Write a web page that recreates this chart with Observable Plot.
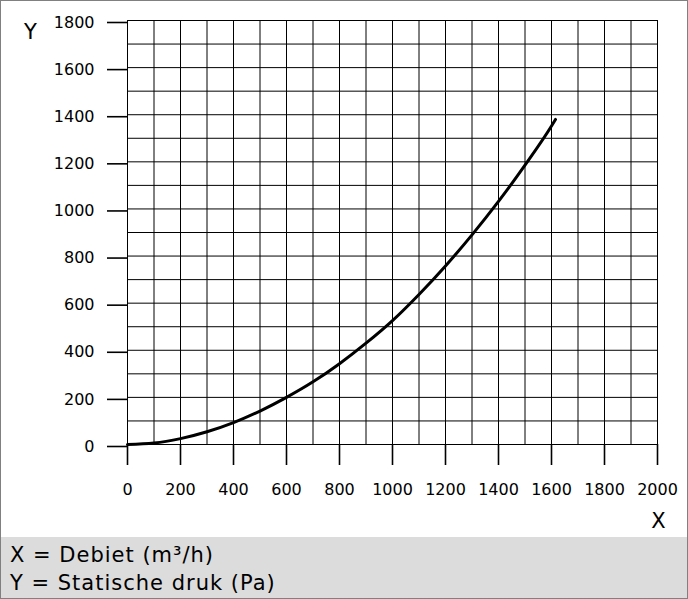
<!DOCTYPE html>
<html>
<head>
<meta charset="utf-8">
<script src="https://cdn.jsdelivr.net/npm/d3@7"></script>
<script src="https://cdn.jsdelivr.net/npm/@observablehq/plot@0.6"></script>
<style>
  html, body { margin: 0; padding: 0; background: #fff; }
  #wrap { width: 688px; height: 599px; box-sizing: border-box; border: 1px solid #808080; position: relative; overflow: hidden; background: #fff; }
  #chart svg { display: block; }
  #legend { position: absolute; left: 0; top: 536px; width: 686px; height: 62px; background: #dcdcdc; font-family: "DejaVu Sans", Verdana, sans-serif; font-size: 21px; letter-spacing: 1px; color: #000; }
  #legend div { position: absolute; left: 9px; white-space: nowrap; }
</style>
</head>
<body>
<div id="wrap">
  <div id="chart"></div>
  <div id="legend">
    <div style="top:6px">X = Debiet (m³/h)</div>
    <div style="top:34px">Y = Statische druk (Pa)</div>
  </div>
</div>
<script>
// Curve values: flow (m³/h) and static pressure (Pa)
const flow     = [0, 100, 200, 300, 400, 500, 600, 700, 800, 900, 1000, 1100, 1200, 1300, 1400, 1500, 1600, 1615];
const pressure = [0, 6, 25, 54, 93, 142, 200, 266, 343, 430, 526, 637, 758, 890, 1032, 1186, 1352, 1380];

// Tick labels
const xTickValues = [0, 200, 400, 600, 800, 1000, 1200, 1400, 1600, 1800, 2000];
const yTickValues = [0, 200, 400, 600, 800, 1000, 1200, 1400, 1600, 1800];

// Grid lines
const xGrid = [0, 100, 200, 300, 400, 500, 600, 700, 800, 900, 1000, 1100, 1200, 1300, 1400, 1500, 1600, 1700, 1800, 1900, 2000];
const yGrid = [0, 100, 200, 300, 400, 500, 600, 700, 800, 900, 1000, 1100, 1200, 1300, 1400, 1500, 1600, 1700, 1800];

const data = flow.map((f, i) => ({flow: f, pressure: pressure[i]}));

const chart = Plot.plot({
  width: 686,
  height: 536,
  marginLeft: 126,
  marginRight: 30,
  marginTop: 19,
  marginBottom: 93,
  style: {fontFamily: "DejaVu Sans, Verdana, sans-serif", fontSize: "16px", color: "#000", background: "#fff"},
  x: {domain: [0, 2000]},
  y: {domain: [0, 1800]},
  marks: [
    Plot.ruleX(xGrid, {stroke: "#000", strokeWidth: 1}),
    Plot.ruleY(yGrid, {stroke: "#000", strokeWidth: 1}),
    Plot.frame({stroke: "#000", strokeWidth: 1}),
    Plot.axisX({ticks: xTickValues, tickFormat: "d", tickSize: 21, tickPadding: 18, strokeWidth: 1.6, label: null, fontSize: 16}),
    Plot.axisY({ticks: yTickValues, tickFormat: "d", tickSize: 20, tickPadding: 13, strokeWidth: 1.6, label: null, fontSize: 16, dy: 2}),
    Plot.line(data, {x: "flow", y: "pressure", curve: "monotone-x", stroke: "#000", strokeWidth: 3}),
    Plot.text(["X"], {frameAnchor: "bottom-right", textAnchor: "middle", lineAnchor: "bottom", dx: 1, dy: 83, fontSize: 21}),
    Plot.text(["Y"], {frameAnchor: "top-left", textAnchor: "middle", lineAnchor: "bottom", dx: -97, dy: 18, fontSize: 21})
  ]
});
document.getElementById("chart").appendChild(chart);
</script>
</body>
</html>
